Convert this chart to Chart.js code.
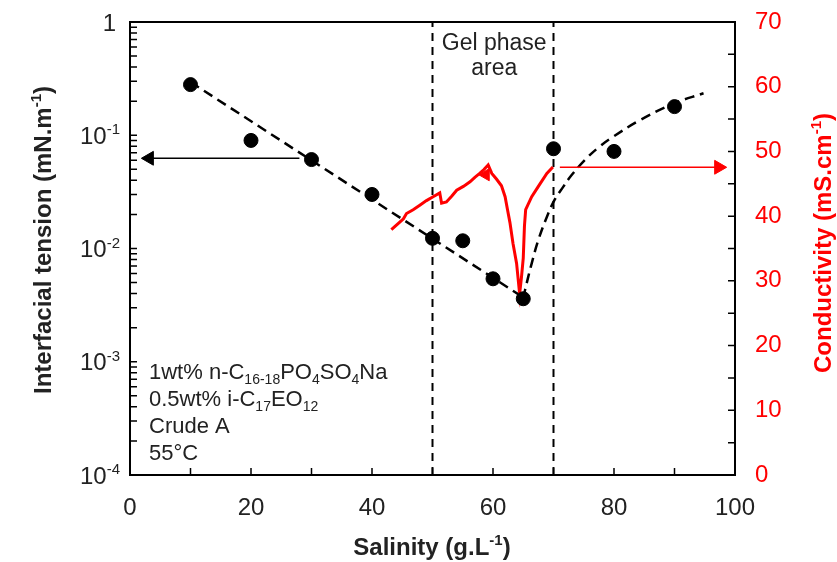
<!DOCTYPE html>
<html>
<head>
<meta charset="utf-8">
<script src="https://cdn.jsdelivr.net/npm/chart.js@4.4.0/dist/chart.umd.min.js"></script>
<style>
  body { margin: 0; background: #fff; }
</style>
</head>
<body>
  <div>
    <canvas id="myChart" width="837" height="562"></canvas>
  </div>
  <script>
    // interfacial tension measurements (left, log axis)
    const salinity = [10, 20, 30, 40, 50, 55, 60, 65, 70, 80, 90];
    const ift = [0.28, 0.090, 0.061, 0.030, 0.0123, 0.0117, 0.0054, 0.0036, 0.076, 0.072, 0.179];

    // dashed guide lines
    const fitX = [10, 65];
    const fitY = [0.295, 0.0037];
    const curveX = [65, 65.3, 66.4, 67.5, 68.9, 70.2, 71.6, 73, 75.2, 77.3, 79.6, 84.3, 89.8, 94.8];
    const curveY = [0.0036, 0.0043, 0.0074, 0.0119, 0.019, 0.027, 0.035, 0.0445, 0.0605, 0.077, 0.095, 0.136, 0.190, 0.235];

    // conductivity scan (right axis)
    const condX = [43.2, 44.5, 45.2, 45.7, 46.8, 47.9, 49.0, 50.1, 51.2, 51.5, 52.3, 53.2, 54.0, 55.1, 56.2, 57.0, 57.8, 58.5, 59.2, 59.8, 60.6, 61.4, 62.0, 62.4, 62.8, 63.3, 63.9, 64.4, 64.7, 65.0, 65.2, 65.4, 66.4, 67.5, 68.9, 69.9];
    const condY = [37.9, 39.0, 39.6, 40.4, 41.0, 41.7, 42.4, 43.0, 43.6, 42.0, 42.2, 43.1, 44.0, 44.6, 45.3, 46.0, 46.6, 47.2, 47.9, 46.6, 45.7, 44.7, 43.0, 41.0, 39.0, 35.8, 32.7, 28.0, 30.5, 33.5, 38.5, 41.0, 43.0, 44.6, 46.6, 47.6];

    const gelBounds = [50, 70];
    const xTicks = [0, 10, 20, 30, 40, 50, 60, 70, 80, 90, 100];
    const logExps = [0, -1, -2, -3, -4];
    const condTicks = [0, 5, 10, 15, 20, 25, 30, 35, 40, 45, 50, 55, 60, 65, 70];

    const FONT = '"Liberation Sans", Arial, sans-serif';
    const RED = '#ff0000';

    const pts = (xs, ys) => xs.map((x, i) => ({ x: x, y: ys[i] }));

    // text with sub/superscripts: parts = [[text, ''|'sup'|'sub'], ...]
    function drawRich(ctx, parts, x, y, size, weight, color, align) {
      const small = Math.round(size * 0.62);
      const fontOf = k => weight + ' ' + (k ? small : size) + 'px ' + FONT;
      let w = 0;
      parts.forEach(p => { ctx.font = fontOf(p[1]); w += ctx.measureText(p[0]).width; });
      let cx = x;
      if (align === 'center') cx = x - w / 2;
      if (align === 'right') cx = x - w;
      ctx.fillStyle = color;
      ctx.textAlign = 'left';
      ctx.textBaseline = 'alphabetic';
      parts.forEach(p => {
        ctx.font = fontOf(p[1]);
        let dy = 0;
        if (p[1] === 'sup') dy = -size * 0.4;
        if (p[1] === 'sub') dy = size * 0.24;
        ctx.fillText(p[0], cx, y + dy);
        cx += ctx.measureText(p[0]).width;
      });
    }

    const decor = {
      id: 'decor',
      afterDraw(chart) {
        const ctx = chart.ctx;
        const a = chart.chartArea;
        const xs = chart.scales.x, ys = chart.scales.y, y2 = chart.scales.y2;
        ctx.save();
        // frame
        ctx.strokeStyle = '#000';
        ctx.lineWidth = 2;
        ctx.strokeRect(a.left, a.top, a.right - a.left, a.bottom - a.top);
        ctx.lineWidth = 1.5;
        ctx.beginPath();
        xTicks.forEach(v => {
          const px = xs.getPixelForValue(v);
          ctx.moveTo(px, a.bottom); ctx.lineTo(px, a.bottom - 7);
        });
        for (let e = -4; e < 0; e++) {
          for (let m = 1; m <= 9; m++) {
            const py = ys.getPixelForValue(m * Math.pow(10, e));
            ctx.moveTo(a.left, py); ctx.lineTo(a.left + 7, py);
          }
        }
        condTicks.forEach(v => {
          const py = y2.getPixelForValue(v);
          ctx.moveTo(a.right, py); ctx.lineTo(a.right - 7, py);
        });
        ctx.stroke();

        // left tick labels
        logExps.forEach(e => {
          const py = ys.getPixelForValue(Math.pow(10, e)) + 8.6;
          if (e === 0) drawRich(ctx, [['1', '']], 116, py, 24, 'normal', '#222', 'right');
          else drawRich(ctx, [['10', ''], [String(e), 'sup']], 120, py, 24, 'normal', '#222', 'right');
        });

        // axis titles
        drawRich(ctx, [['Salinity (g.L', ''], ['-1', 'sup'], [')', '']], 432, 555, 24, 'bold', '#222', 'center');
        ctx.save();
        ctx.translate(42, 240);
        ctx.rotate(-Math.PI / 2);
        drawRich(ctx, [['Interfacial tension (mN.m', ''], ['-1', 'sup'], [')', '']], 0, 8.6, 24, 'bold', '#222', 'center');
        ctx.restore();
        ctx.save();
        ctx.translate(822, 243);
        ctx.rotate(-Math.PI / 2);
        drawRich(ctx, [['Conductivity (mS.cm', ''], ['-1', 'sup'], [')', '']], 0, 8.6, 24, 'bold', RED, 'center');
        ctx.restore();

        // gel phase label
        const gx = xs.getPixelForValue(60.2);
        drawRich(ctx, [['Gel phase', '']], gx, 50, 23, 'normal', '#222', 'center');
        drawRich(ctx, [['area', '']], gx, 75, 23, 'normal', '#222', 'center');

        // conditions
        drawRich(ctx, [['1wt% n-C', ''], ['16-18', 'sub'], ['PO', ''], ['4', 'sub'], ['SO', ''], ['4', 'sub'], ['Na', '']], 149, 379, 22, 'normal', '#222', 'left');
        drawRich(ctx, [['0.5wt% i-C', ''], ['17', 'sub'], ['EO', ''], ['12', 'sub']], 149, 406, 22, 'normal', '#222', 'left');
        drawRich(ctx, [['Crude A', '']], 149, 433, 22, 'normal', '#222', 'left');
        drawRich(ctx, [['55°C', '']], 149, 460, 22, 'normal', '#222', 'left');
        ctx.restore();
      }
    };

    // fixed axis sizes, no extra label overflow padding
    const fixSize = (w, h) => s => {
      if (w) s.width = w;
      if (h) s.height = h;
      s.paddingTop = 0; s.paddingBottom = 0; s.paddingLeft = 0; s.paddingRight = 0;
    };

    new Chart('myChart', {
      type: 'line',
      data: {
        datasets: [
          {
            data: pts(salinity, ift), yAxisID: 'y', showLine: false,
            pointRadius: 7, pointBackgroundColor: '#000', pointBorderColor: '#000'
          },
          {
            data: [{ x: 28, y: 0.0626 }, { x: 3.2, y: 0.0626 }], yAxisID: 'y',
            borderColor: '#000', borderWidth: 1.5, pointRadius: [0, 8], pointStyle: 'triangle',
            rotation: -90, pointBackgroundColor: '#000', pointBorderColor: '#000', pointBorderWidth: 1
          },
          {
            data: [{ x: 71.05, y: 47.55 }, { x: 97.3, y: 47.55 }], yAxisID: 'y2',
            borderColor: RED, borderWidth: 1.5, pointRadius: [0, 8], pointStyle: 'triangle',
            rotation: 90, pointBackgroundColor: RED, pointBorderColor: RED, pointBorderWidth: 1
          },
          {
            data: [{ x: 58.8, y: 46.4 }], yAxisID: 'y2', showLine: false,
            pointRadius: 7, pointStyle: 'triangle', rotation: -90,
            pointBackgroundColor: RED, pointBorderColor: RED
          },
          {
            data: pts(condX, condY), yAxisID: 'y2',
            borderColor: RED, borderWidth: 3, pointRadius: 0, tension: 0
          },
          {
            data: pts(fitX, fitY), yAxisID: 'y',
            borderColor: '#000', borderWidth: 2.5, borderDash: [10, 6], pointRadius: 0
          },
          {
            data: pts(curveX, curveY), yAxisID: 'y',
            borderColor: '#000', borderWidth: 2.5, borderDash: [10, 6], pointRadius: 0,
            tension: 0.4
          },
          {
            data: [{ x: gelBounds[0], y: 1e-4 }, { x: gelBounds[0], y: 1 }], yAxisID: 'y',
            borderColor: '#000', borderWidth: 2, borderDash: [8, 6], pointRadius: 0
          },
          {
            data: [{ x: gelBounds[1], y: 1e-4 }, { x: gelBounds[1], y: 1 }], yAxisID: 'y',
            borderColor: '#000', borderWidth: 2, borderDash: [8, 6], pointRadius: 0
          }
        ]
      },
      options: {
        responsive: false,
        animation: false,
        devicePixelRatio: 1,
        layout: { padding: { top: 22 } },
        plugins: {
          legend: { display: false },
          tooltip: { enabled: false }
        },
        scales: {
          x: {
            type: 'linear', min: 0, max: 100, position: 'bottom',
            grid: { display: false, drawTicks: false, tickLength: 0 },
            border: { display: false },
            ticks: { stepSize: 20, autoSkip: false, maxRotation: 0, padding: 19, color: '#222', font: { family: FONT, size: 24 } },
            afterFit: fixSize(0, 87)
          },
          y: {
            type: 'logarithmic', min: 1e-4, max: 1, position: 'left',
            grid: { display: false, drawTicks: false, tickLength: 0 },
            border: { display: false },
            ticks: { display: false },
            afterFit: fixSize(130, 0)
          },
          y2: {
            type: 'linear', min: 0, max: 70, position: 'right',
            grid: { display: false, drawTicks: false, tickLength: 0 },
            border: { display: false },
            ticks: { stepSize: 10, padding: 20, color: RED, font: { family: FONT, size: 24 } },
            afterFit: fixSize(102, 0)
          }
        }
      },
      plugins: [decor]
    });
  </script>
</body>
</html>
